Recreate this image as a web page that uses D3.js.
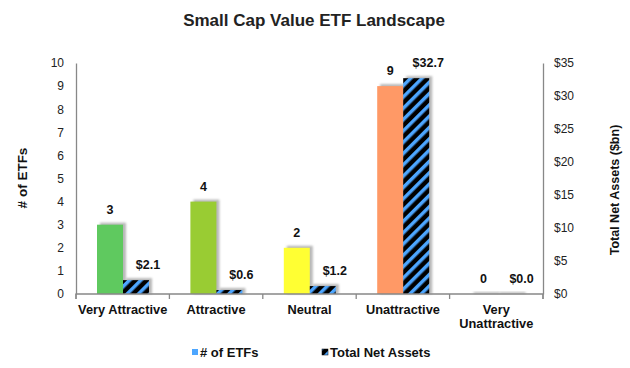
<!DOCTYPE html>
<html><head><meta charset="utf-8">
<script src="https://cdn.jsdelivr.net/npm/d3@7"></script>
<style>body{margin:0;background:#fff}svg{font-family:"Liberation Sans",Arial,sans-serif}</style>
</head><body><svg id="c" width="630" height="368"></svg>
<script>
const categories = ["Very Attractive","Attractive","Neutral","Unattractive","Very Unattractive"];
const etfCounts = [3,4,2,9,0];
const netAssets = [2.1,0.6,1.2,32.7,0.0];
const barColors = ["#5fc95f","#99cc33","#ffff33","#ff9966","#bbbbbb"];
const leftTicks = [0,1,2,3,4,5,6,7,8,9,10];
const rightTicks = [0,5,10,15,20,25,30,35];

const svg = d3.select("#c");
const L = 76, R = 543, T = 63, B = 294;
const x = d3.scaleBand().domain(categories).range([L,R]).paddingInner(0).paddingOuter(0);
const yL = d3.scaleLinear().domain([0,10]).range([B,T]);
const yR = d3.scaleLinear().domain([0,35]).range([B,T]);
const bw = 26, off = 21;

const defs = svg.append("defs");
const pat = defs.append("pattern").attr("id","hatch").attr("patternUnits","userSpaceOnUse")
  .attr("width",8).attr("height",8).attr("patternTransform","rotate(45)");
pat.append("rect").attr("width",8).attr("height",8).attr("fill","#000");
pat.append("rect").attr("x",0).attr("width",3.5).attr("height",8).attr("fill","#4da6ff");
const flt = defs.append("filter").attr("id","blur").attr("x","-20%").attr("y","-20%").attr("width","140%").attr("height","140%");
flt.append("feGaussianBlur").attr("stdDeviation",0.8);

svg.append("text").attr("x",314).attr("y",26).attr("text-anchor","middle")
  .attr("font-size",17).attr("font-weight","bold").attr("fill","#222").text("Small Cap Value ETF Landscape");

// shadows
const g = svg.append("g");
categories.forEach((c,i)=>{
  const x0 = x(c)+off;
  const h1 = B - yL(etfCounts[i]);
  g.append("rect").attr("x",x0+3).attr("y",yL(etfCounts[i])-2).attr("width",bw).attr("height",h1+2).attr("fill","#b8b8b8").attr("filter","url(#blur)");
  const h2 = B - yR(netAssets[i]);
  g.append("rect").attr("x",x0+bw+3).attr("y",yR(netAssets[i])-2).attr("width",bw).attr("height",h2+2).attr("fill","#b8b8b8").attr("filter","url(#blur)");
});
categories.forEach((c,i)=>{
  const x0 = x(c)+off;
  g.append("rect").attr("x",x0).attr("y",yL(etfCounts[i])).attr("width",bw).attr("height",B-yL(etfCounts[i])).attr("fill",barColors[i]);
  g.append("rect").attr("x",x0+bw).attr("y",yR(netAssets[i])).attr("width",bw).attr("height",B-yR(netAssets[i])).attr("fill","url(#hatch)");
  g.append("text").attr("x",x0+bw/2).attr("y",yL(etfCounts[i])-11).attr("text-anchor","middle")
    .attr("font-size",12.5).attr("font-weight","bold").attr("fill","#111").text(etfCounts[i]);
  g.append("text").attr("x",x0+bw*1.5+12).attr("y",yR(netAssets[i])-11).attr("text-anchor","middle")
    .attr("font-size",12.5).attr("font-weight","bold").attr("fill","#111").text("$"+netAssets[i].toFixed(1));
});

// axes
const axL = svg.append("g").attr("transform",`translate(${L},0)`)
  .call(d3.axisLeft(yL).tickValues(leftTicks).tickSize(0).tickPadding(12));
const axR = svg.append("g").attr("transform",`translate(${R},0)`)
  .call(d3.axisRight(yR).tickValues(rightTicks).tickSize(0).tickPadding(11).tickFormat(d=>"$"+d));
[axL,axR].forEach(a=>{
  a.select(".domain").attr("stroke","#888").attr("stroke-width",1.3);
  a.selectAll("text").attr("font-size",12).attr("fill","#222").attr("font-family","Liberation Sans, Arial, sans-serif");
});
const axB = svg.append("g").attr("transform",`translate(0,${B})`)
  .call(d3.axisBottom(x).tickSize(5).tickFormat(""));
axB.select(".domain").attr("stroke","#888").attr("stroke-width",1.3).attr("d",`M${L},5V0H${R}V5`);
axB.selectAll(".tick").remove();
const edges = categories.map(c=>x(c)).concat([R]);
edges.forEach(e=>axB.append("line").attr("x1",e).attr("x2",e).attr("y1",0).attr("y2",5).attr("stroke","#888").attr("stroke-width",1.3));
categories.forEach(c=>{
  const cx = x(c)+x.bandwidth()/2;
  const t = axB.append("text").attr("text-anchor","middle").attr("font-size",12.8).attr("font-weight","bold").attr("fill","#111");
  if (c==="Very Unattractive") {
    t.append("tspan").attr("x",cx).attr("y",20).text("Very");
    t.append("tspan").attr("x",cx).attr("y",34).text("Unattractive");
  } else t.attr("x",cx).attr("y",20).text(c);
});

svg.append("text").attr("transform","translate(27,178) rotate(-90)").attr("text-anchor","middle")
  .attr("font-size",13.5).attr("font-weight","bold").attr("fill","#111").text("# of ETFs");
svg.append("text").attr("transform","translate(619,190) rotate(-90)").attr("text-anchor","middle")
  .attr("font-size",12.5).attr("font-weight","bold").attr("fill","#111").text("Total Net Assets ($bn)");

// legend
const lg = svg.append("g");
lg.append("rect").attr("x",192).attr("y",349).attr("width",6).attr("height",6).attr("fill","#4da6ff");
lg.append("text").attr("x",200).attr("y",357).attr("font-size",13).attr("font-weight","bold").attr("fill","#111").text("# of ETFs");
lg.append("rect").attr("x",322).attr("y",349).attr("width",6).attr("height",6).attr("fill","url(#hatch)").attr("stroke","#000").attr("stroke-width",0.5);
lg.append("text").attr("x",330).attr("y",357).attr("font-size",13).attr("font-weight","bold").attr("fill","#111").text("Total Net Assets");
</script></body></html>
